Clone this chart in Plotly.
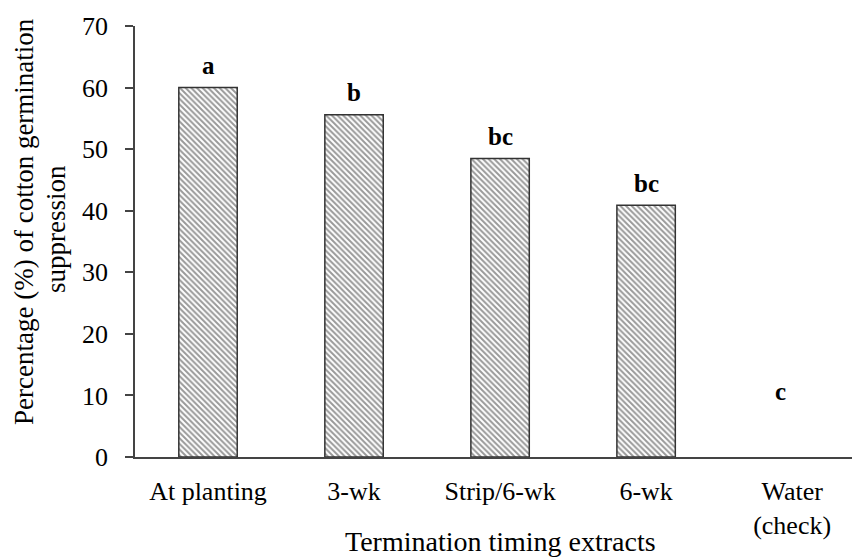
import plotly.graph_objects as go

categories = ["At planting", "3-wk", "Strip/6-wk", "6-wk", "Water<br>(check)"]
values = [60.0, 55.6, 48.5, 40.9, 0.0]
letters = ["a", "b", "bc", "bc", "c"]
y_ticks = [0, 10, 20, 30, 40, 50, 60, 70]

W, H = 852, 559
L, R, T, B = 135, 0, 26, 102
pw = W - L - R
ph = H - T - B

xs = list(range(len(categories)))
FONT = "Liberation Serif, Times New Roman, serif"

fig = go.Figure()
fig.add_trace(go.Bar(
    x=xs, y=values,
    marker=dict(
        color="white",
        line=dict(color="#333333", width=[1.5 if v > 0 else 0 for v in values]),
        pattern=dict(shape="\\", size=4, solidity=0.5, fgcolor="#333333", bgcolor="white"),
    ),
    width=0.4,
    hoverinfo="skip",
))

for i, (v, lab) in enumerate(zip(values, letters)):
    ly = v if v > 0 else 7.0
    fig.add_annotation(x=i, y=ly, text="<b>%s</b>" % lab, showarrow=False,
                       yshift=22, xshift=(0 if v > 0 else -12),
                       font=dict(family=FONT, size=25, color="black"))

def px2x(px):
    return (px - L) / pw

def px2y(py):
    return (H - B - py) / ph

fig.add_annotation(xref="paper", yref="paper",
                   x=px2x(24), y=px2y(222),
                   text="Percentage (%) of cotton germination",
                   textangle=-90, showarrow=False, xanchor="center", yanchor="middle",
                   font=dict(family=FONT, size=27, color="black"))
fig.add_annotation(xref="paper", yref="paper",
                   x=px2x(56), y=px2y(229),
                   text="suppression",
                   textangle=-90, showarrow=False, xanchor="center", yanchor="middle",
                   font=dict(family=FONT, size=27, color="black"))

fig.add_annotation(xref="paper", yref="paper",
                   x=px2x(500), y=px2y(541),
                   text="Termination timing extracts",
                   showarrow=False, xanchor="center", yanchor="middle",
                   font=dict(family=FONT, size=28, color="black"))

fig.update_layout(
    width=W, height=H,
    margin=dict(l=L, r=R, t=T, b=B),
    plot_bgcolor="white", paper_bgcolor="white",
    showlegend=False,
    font=dict(family=FONT, size=26, color="black"),
)
fig.update_xaxes(
    range=[-0.5, 4.41],
    tickmode="array", tickvals=xs, ticktext=categories,
    showline=True, linecolor="#444444", linewidth=1.5,
    ticks="", showgrid=False, zeroline=False,
    tickfont=dict(family=FONT, size=26, color="black"),
    ticklabelstandoff=10,
)
fig.update_yaxes(
    range=[0, 70],
    tickmode="array", tickvals=y_ticks,
    showline=True, linecolor="#444444", linewidth=1.5,
    ticks="outside", ticklen=8, tickcolor="#444444", tickwidth=1.5,
    showgrid=False, zeroline=False,
    tickfont=dict(family=FONT, size=26, color="black"),
    ticklabelstandoff=12,
)

fig.write_html("out.html", config={"displayModeBar": False})
with open("out.html", "r", encoding="utf-8") as f:
    html = f.read()
html = html.replace("<head>", "<head><style>html,body{margin:0;padding:0;overflow:hidden;}</style>", 1)
with open("out.html", "w", encoding="utf-8") as f:
    f.write(html)
